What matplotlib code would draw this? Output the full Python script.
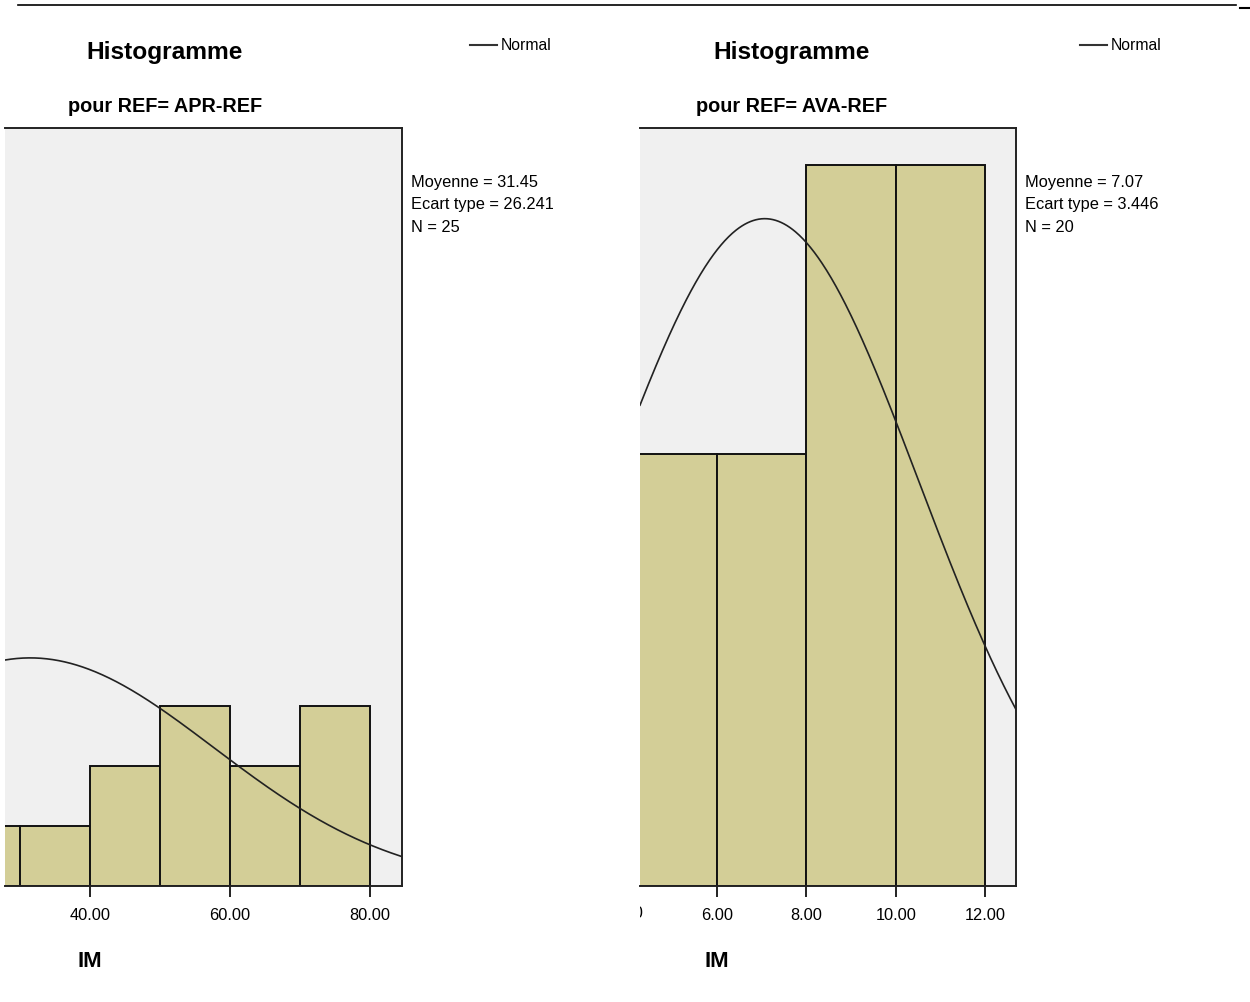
import numpy as np
import matplotlib.pyplot as plt
from matplotlib import font_manager
from matplotlib.lines import Line2D
from matplotlib.transforms import Bbox, blended_transform_factory

names = {f.name for f in font_manager.fontManager.ttflist}
if 'Liberation Sans Narrow' in names:
    plt.rcParams['font.family'] = ['Liberation Sans Narrow', 'DejaVu Sans']
    fs = 1.0
else:
    # no narrow face: keep the text widths of the reference
    plt.rcParams['font.family'] = ['Liberation Sans', 'DejaVu Sans']
    fs = 0.84

W, H = 1250, 1003

# APR-REF panel (visible bins only)
apr_edges = [20, 30, 40, 50, 60, 70]
apr_counts = [1, 1, 2, 3, 2, 3]
apr_mean, apr_sd, apr_n = 31.45, 26.241, 25
apr_ticks = [20, 40, 60, 80]

# AVA-REF panel
ava_edges = [4, 6, 8, 10]
ava_counts = [3, 3, 5, 5]
ava_mean, ava_sd, ava_n = 7.07, 3.446, 20
ava_ticks = [4, 6, 8, 10, 12]


def px(x, y):
    return x / W, 1 - y / H


fig = plt.figure(figsize=(W / 100, H / 100), dpi=100)

bar_color = '#d3ce97'
bg = '#f0f0f0'


def panel(left, right, xlim, ylim, edges, counts, width, mean, sd, n, ticks, sub, cx, stats_x, leg_x):
    x0, y0 = px(left, 887)
    ax = fig.add_axes([x0, y0, (right - left) / W, (887 - 129) / H])
    ax.set_facecolor(bg)
    ax.bar(edges, counts, width=width, align='edge', color=bar_color,
           edgecolor='#111111', linewidth=1.4, zorder=2)
    xs = np.linspace(xlim[0], xlim[1], 400)
    ys = n * width / (sd * np.sqrt(2 * np.pi)) * np.exp(-0.5 * ((xs - mean) / sd) ** 2)
    ax.plot(xs, ys, color='#222222', linewidth=1.2, zorder=3)
    ax.set_yticks([])
    inside = [t for t in ticks if xlim[0] <= t <= xlim[1]]
    ax.set_xticks(inside)
    ax.set_xticklabels([f'{t:.2f}' for t in inside], fontsize=14 * fs)
    ax.set_xlim(*xlim)
    ax.set_ylim(*ylim)
    ax.tick_params(axis='x', length=8, width=1.3, color='#111111', pad=7)
    ax.spines['left'].set_visible(False)
    for s in ['top', 'right', 'bottom']:
        ax.spines[s].set_linewidth(1.4)
        ax.spines[s].set_color('#222222')
    # the reference is cropped at the left edge of the plot: labels of ticks
    # left of the view are cut at that edge
    clip = Bbox.from_extents(left, 0, W, H)
    tr = blended_transform_factory(ax.transData, fig.transFigure)
    for t in ticks:
        if t < xlim[0]:
            lab = ax.text(t, px(0, 914)[1], f'{t:.2f}', transform=tr,
                          ha='center', va='center', fontsize=14 * fs)
            lab.set_clip_on(True)
            lab.set_clip_box(clip)

    fig.text(*px(cx, 52), 'Histogramme', ha='center', va='center',
             fontsize=21 * fs, fontweight='bold')
    fig.text(*px(cx, 107), sub, ha='center', va='center',
             fontsize=17 * fs, fontweight='bold')
    fig.text(*px(cx - 75, 962), 'IM', ha='center', va='center',
             fontsize=19 * fs, fontweight='bold')
    stats = [f'Moyenne = {mean:.2f}', f'Ecart type = {sd:.3f}', f'N = {n}']
    for i, s in enumerate(stats):
        fig.text(*px(stats_x, 183 + 22 * i), s, ha='left', va='center', fontsize=14 * fs)
    lx0, ly = px(leg_x, 46)
    lx1, _ = px(leg_x + 27, 46)
    fig.add_artist(Line2D([lx0, lx1], [ly, ly], color='#333333', linewidth=1.5))
    fig.text(*px(leg_x + 31, 46), 'Normal', ha='left', va='center', fontsize=13.5 * fs)
    return ax


panel(5, 402, (27.86, 84.57), (0, 12.63), apr_edges, apr_counts, 10,
      apr_mean, apr_sd, apr_n, apr_ticks, 'pour REF= APR-REF', 165, 411, 470)
panel(640, 1016, (4.28, 12.69), (0, 5.26), ava_edges, ava_counts, 2,
      ava_mean, ava_sd, ava_n, ava_ticks, 'pour REF= AVA-REF', 792, 1025, 1080)

# top rule of the page
fig.add_artist(Line2D([18 / W, 1236 / W], [1 - 6 / H, 1 - 6 / H], color='black', linewidth=1.2))
fig.add_artist(Line2D([1240 / W, 1250 / W], [1 - 9 / H, 1 - 9 / H], color='black', linewidth=1.5))

fig.savefig('out.png', dpi=100)
